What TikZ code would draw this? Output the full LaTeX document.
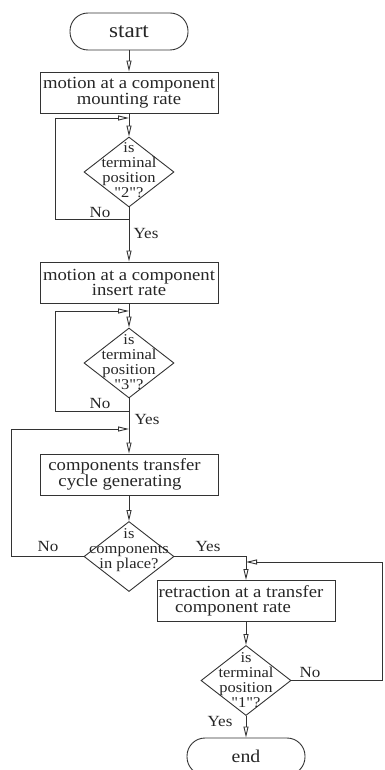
\documentclass[tikz,border=0pt]{standalone}
\usepackage{fontspec}
\setmainfont{Liberation Serif}[FakeStretch=1.1, Ligatures=TeXOff]
\usetikzlibrary{arrows.meta,shapes.geometric}
\begin{document}
\begin{tikzpicture}[x=1pt,y=-1pt,
  lc/.style={draw=black!80, line width=0.9pt},
  proc/.style={lc, rectangle, minimum width=178pt, minimum height=41pt, inner sep=0pt, align=center, text=black!85, font=\fontsize{17}{15.5}\selectfont},
  term/.style={lc, rectangle, rounded corners=18pt, minimum width=118pt, minimum height=37pt, inner sep=0pt, text=black!85},
  dec/.style={lc, diamond, minimum width=90pt, minimum height=70pt, inner sep=0pt},
  dtext/.style={align=center, inner sep=0pt, text=black!85, font=\fontsize{15}{15.2}\selectfont},
  lbl/.style={inner sep=0pt, text=black!85, font=\fontsize{15.5}{16}\selectfont},
  arr/.style={lc, -{Triangle[open, length=11pt, width=5pt]}},
  ln/.style={lc}]
\useasboundingbox (0,0) rectangle (384,770);
% nodes
\node[term, font=\fontsize{21}{21}\selectfont] (start) at (129,31.5) {start};
\node[proc] (b1) at (129,92.5) {motion at a component\\mounting rate};
\coordinate (m1) at (129,118);
\node[dec] (d1) at (129,172) {};
\node[dtext] (t1) at (129,170) {is\\terminal\\position\\"2"?};
\coordinate (j1) at (129,219);
\coordinate (l1) at (55,219);
\node[proc] (b2) at (129,282.5) {motion at a component\\insert rate};
\coordinate (m2) at (129,311);
\node[dec] (d2) at (129,363) {};
\node[dtext] (t2) at (129,362) {is\\terminal\\position\\"3"?};
\coordinate (j2) at (129,411);
\coordinate (l2) at (55,411);
\coordinate (m3) at (129,429);
\node[proc] (b3) at (129,474.5) {\hspace*{-9pt}components transfer\\\hspace*{-18pt}cycle generating};
\node[dec] (d3) at (129,556.5) {};
\node[dtext] (t3) at (129,550) {is\\components\\in place?};
\coordinate (l3) at (11,556.5);
\coordinate (m4) at (246,562);
\node[proc] (b4) at (246,601) {\hspace*{-10pt}retraction at a transfer\\\hspace*{-26pt}component rate};
\node[dec] (d4) at (246,680.5) {};
\node[dtext] (t4) at (246,680) {is\\terminal\\position\\"1"?};
\coordinate (r4) at (382,680.5);
\node[term, font=\fontsize{18}{18}\selectfont] (end) at (246,756.5) {end};
% labels
\node[lbl] (no1) at (100,213) {No};
\node[lbl] (yes1) at (146,234) {Yes};
\node[lbl] (no2) at (100,403) {No};
\node[lbl] (yes2) at (147,419) {Yes};
\node[lbl] (no3) at (48,546) {No};
\node[lbl] (yes3) at (208,546) {Yes};
\node[lbl] (no4) at (310,672) {No};
\node[lbl] (yes4) at (220,721) {Yes};
% connectors
\draw[arr] (start) -- (b1);
\draw[arr] (b1) -- (d1);
\draw[ln] (d1) -- (j1);
\draw[arr] (j1) -- (b2);
\draw[arr] (j1) -- (l1) |- (m1);
\draw[arr] (b2) -- (d2);
\draw[ln] (d2) -- (j2);
\draw[arr] (j2) -- (l2) |- (m2);
\draw[arr] (j2) -- (b3);
\draw[arr] (b3) -- (d3);
\draw[arr] (d3.west) -- (l3) |- (m3);
\draw[arr] (d3.east) -| (b4.north);
\draw[arr] (b4) -- (d4);
\draw[arr] (d4.east) -- (r4) |- (m4);
\draw[arr] (d4) -- (end);
\end{tikzpicture}
\end{document}
